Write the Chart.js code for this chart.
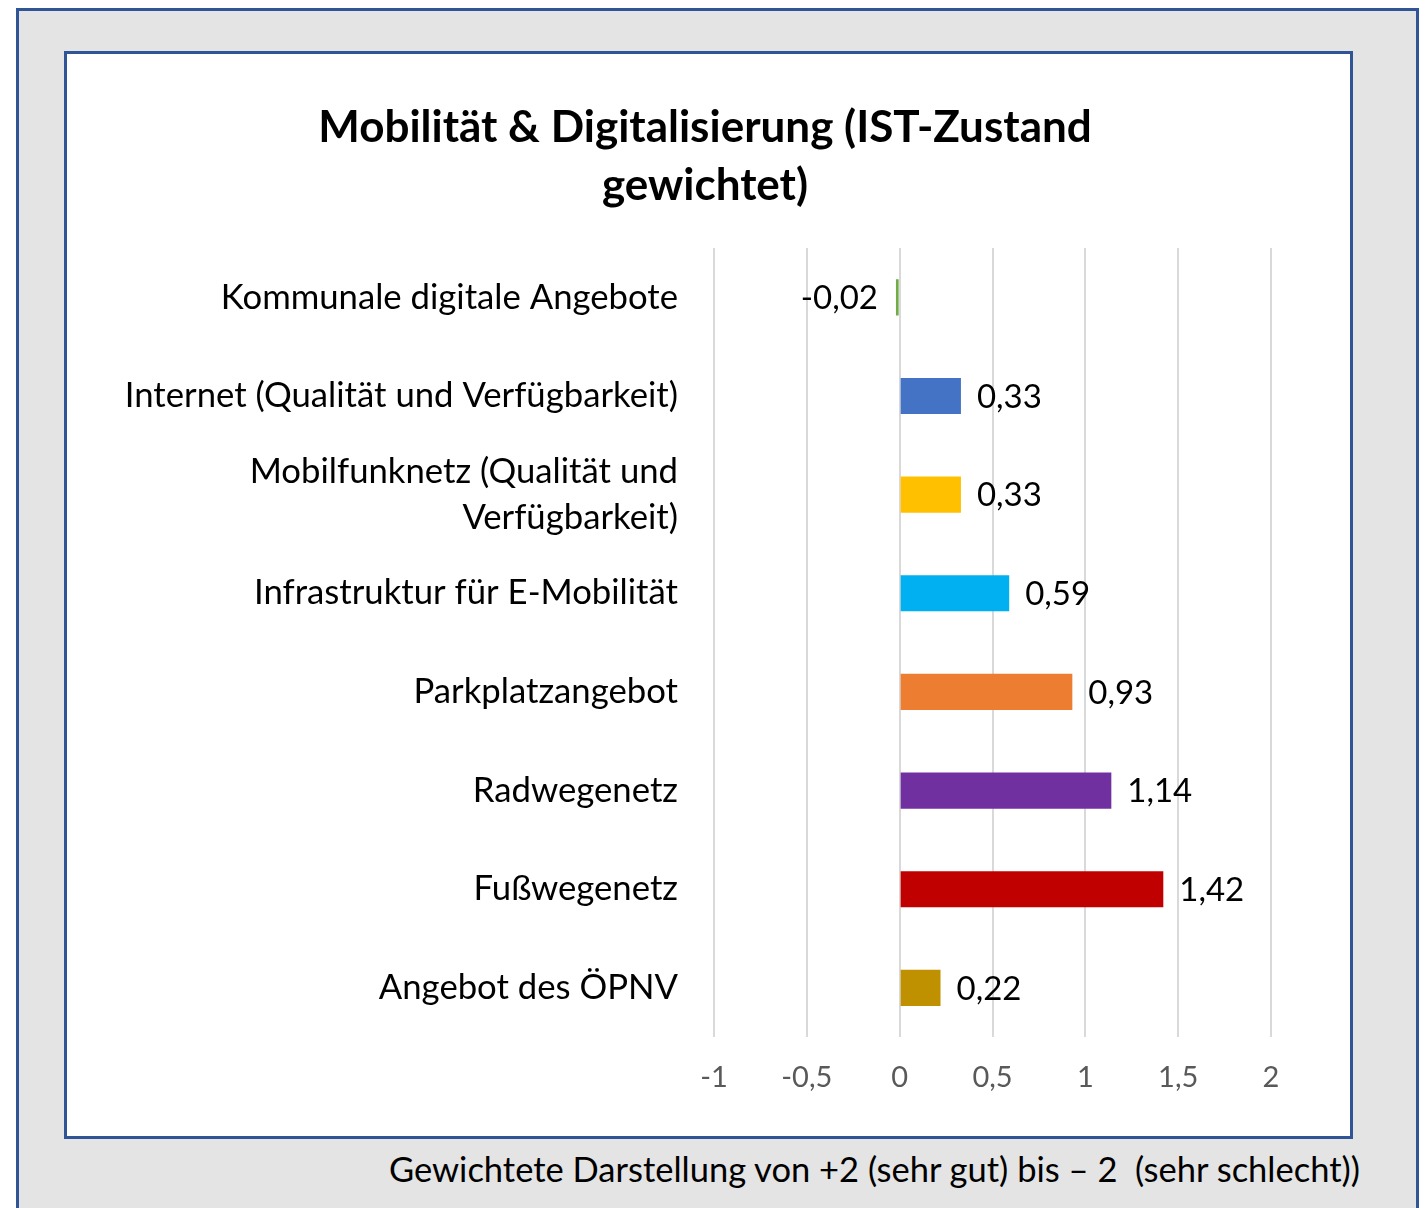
<!DOCTYPE html>
<html>
<head>
<meta charset="utf-8">
<script src="https://cdn.jsdelivr.net/npm/chart.js@4/dist/chart.umd.min.js"></script>
<style>
  html, body { margin: 0; padding: 0; background: #ffffff; width: 1426px; height: 1208px; overflow: hidden; }
  #outer { position: absolute; left: 16px; top: 8px; width: 1397px; height: 1240px; background: #e4e4e4; border: 3px solid #2f5597; }
  #inner { position: absolute; left: 64px; top: 51px; width: 1283px; height: 1082px; background: #ffffff; border: 3px solid #2f5597; }
  #c { position: absolute; left: 0; top: 0; }
  #title { position: absolute; left: 305px; width: 800px; top: 96px; text-align: center; font-family: Lato, "Noto Sans", sans-serif; font-weight: bold; font-size: 44px; line-height: 58px; color: #000; }
  #caption { position: absolute; right: 66px; top: 1147px; font-family: Lato, "Noto Sans", sans-serif; font-size: 34.5px; color: #000; white-space: pre; line-height: 44px; }
</style>
</head>
<body>
<div id="outer"></div>
<div id="inner"><canvas id="c" width="1283" height="1082"></canvas></div>
<div id="title"></div>
<div id="caption">Gewichtete Darstellung von +2 (sehr gut) bis – 2  (sehr schlecht))</div>
<script>
const titleLines = ["Mobilität & Digitalisierung (IST-Zustand", "gewichtet)"];
const categories = [
  "Kommunale digitale Angebote",
  "Internet (Qualität und Verfügbarkeit)",
  ["Mobilfunknetz (Qualität und", "Verfügbarkeit)"],
  "Infrastruktur für E-Mobilität",
  "Parkplatzangebot",
  "Radwegenetz",
  "Fußwegenetz",
  "Angebot des ÖPNV"
];
const values = [-0.02, 0.33, 0.33, 0.59, 0.93, 1.14, 1.42, 0.22];
const barColors = ["#70ad47", "#4472c4", "#ffc000", "#00b0f0", "#ed7d31", "#7030a0", "#c00000", "#bf9000"];
const axisMin = -1, axisMax = 2, axisStep = 0.5;

document.getElementById('title').innerHTML = titleLines.join('<br>');

const fmt = v => String(v).replace('.', ',');
const fmt2 = v => v.toFixed(2).replace('.', ',');

const valueLabels = {
  id: 'valueLabels',
  afterDatasetsDraw(chart) {
    const ctx = chart.ctx;
    const meta = chart.getDatasetMeta(0);
    ctx.save();
    ctx.font = '33px Lato, "Noto Sans", sans-serif';
    ctx.fillStyle = '#000000';
    ctx.textBaseline = 'middle';
    meta.data.forEach((bar, i) => {
      const v = values[i];
      if (v >= 0) {
        ctx.textAlign = 'left';
        ctx.fillText(fmt2(v), bar.x + 16, bar.y + 1);
      } else {
        ctx.textAlign = 'right';
        ctx.fillText(fmt2(v), bar.x - 18, bar.y + 1);
      }
    });
    ctx.restore();
  }
};

new Chart(document.getElementById('c'), {
  type: 'bar',
  data: {
    labels: categories,
    datasets: [{
      data: values,
      backgroundColor: barColors,
      borderWidth: 0,
      categoryPercentage: 1,
      barPercentage: 0.366
    }]
  },
  options: {
    indexAxis: 'y',
    responsive: false,
    animation: false,
    devicePixelRatio: 1,
    layout: { padding: { left: 0, right: 79, top: 194, bottom: 18 } },
    plugins: {
      legend: { display: false },
      tooltip: { enabled: false },
      title: { display: false }
    },
    scales: {
      x: {
        min: axisMin,
        max: axisMax,
        ticks: {
          stepSize: axisStep,
          padding: 23,
          color: '#595959',
          font: { family: 'Lato, "Noto Sans", sans-serif', size: 29 },
          callback: v => fmt(v)
        },
        grid: { color: '#d9d9d9', lineWidth: 2, drawTicks: false },
        border: { display: false }
      },
      y: {
        ticks: {
          color: '#000000',
          padding: 36,
          font: { family: 'Lato, "Noto Sans", sans-serif', size: 34.7, lineHeight: 1.33 }
        },
        grid: { display: false, drawTicks: false },
        border: { display: false },
        afterFit(scale) { scale.width = 647; }
      }
    }
  },
  plugins: [valueLabels]
});
</script>
</body>
</html>
